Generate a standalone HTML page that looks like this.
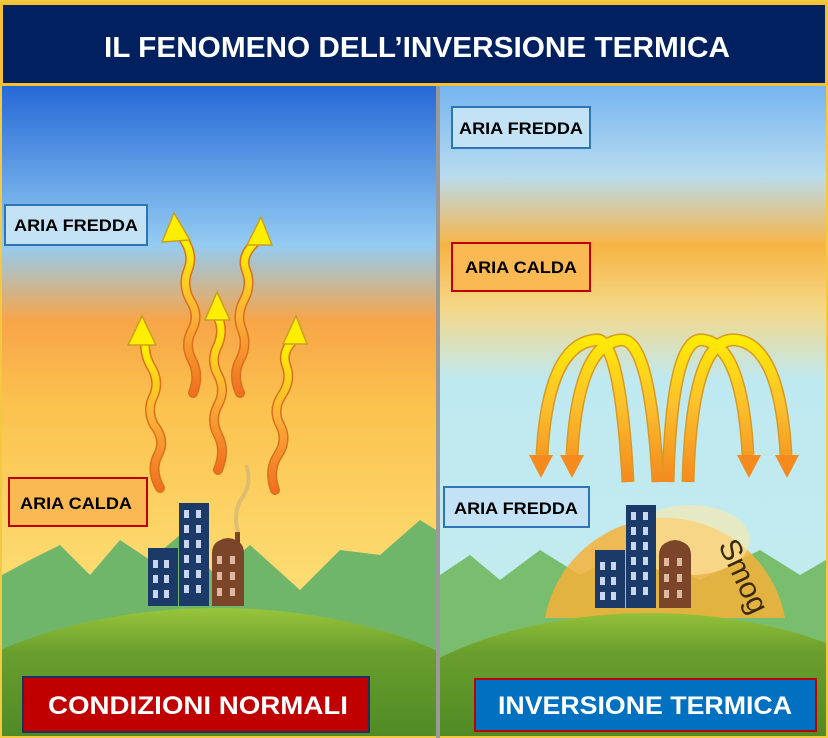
<!DOCTYPE html>
<html><head><meta charset="utf-8"><style>
html,body{margin:0;padding:0;background:#f5c842;width:828px;height:738px;overflow:hidden}
svg{display:block}
text{font-family:"Liberation Sans",sans-serif;font-weight:bold}
</style></head><body>
<svg width="828" height="738" viewBox="0 0 828 738" xmlns="http://www.w3.org/2000/svg">
<defs>
<linearGradient id="lsky" x1="0" x2="0" gradientUnits="userSpaceOnUse" y1="85" y2="620">
<stop offset="0" stop-color="#2468d6"/><stop offset="0.3" stop-color="#94ccf2"/><stop offset="0.44" stop-color="#f7a548"/><stop offset="0.6" stop-color="#fbc24e"/><stop offset="1" stop-color="#fde27a"/></linearGradient>
<linearGradient id="rsky" x1="0" x2="0" gradientUnits="userSpaceOnUse" y1="85" y2="620">
<stop offset="0" stop-color="#74b4f0"/><stop offset="0.17" stop-color="#b9dcef"/><stop offset="0.3" stop-color="#f7b444"/><stop offset="0.42" stop-color="#f4d889"/><stop offset="0.55" stop-color="#bfe9f0"/><stop offset="1" stop-color="#c2ecef"/></linearGradient>
<linearGradient id="wave" x1="0" x2="0" y1="0" y2="1"><stop offset="0" stop-color="#fff200"/><stop offset="0.5" stop-color="#fbb13a"/><stop offset="1" stop-color="#f07020"/></linearGradient>
<linearGradient id="arch" x1="0" x2="0" gradientUnits="userSpaceOnUse" y1="330" y2="480"><stop offset="0" stop-color="#fff000"/><stop offset="0.5" stop-color="#fbc02d"/><stop offset="1" stop-color="#f58a1f"/></linearGradient>
<linearGradient id="hill" x1="0" x2="0" gradientUnits="userSpaceOnUse" y1="605" y2="738"><stop offset="0" stop-color="#9cc83c"/><stop offset="0.35" stop-color="#6a9f2e"/><stop offset="1" stop-color="#4f8a25"/></linearGradient>
<clipPath id="cl"><rect x="2" y="86" width="434" height="650"/></clipPath>
<clipPath id="cr"><rect x="440" y="86" width="386" height="650"/></clipPath>
</defs>
<rect x="0" y="0" width="828" height="738" fill="#f5c842"/>
<g clip-path="url(#cl)">
<rect x="2" y="86" width="434" height="650" fill="url(#lsky)"/>
<path d="M2 575 L30 560 L60 545 L90 575 L120 540 L150 560 L180 535 L215 575 L250 545 L300 590 L340 550 L380 555 L420 520 L436 530 L436 738 L2 738Z" fill="#6fb56a"/>
<ellipse cx="218" cy="790" rx="340" ry="182" fill="url(#hill)"/>
</g>
<g clip-path="url(#cr)">
<rect x="440" y="86" width="386" height="650" fill="url(#rsky)"/>
<path d="M440 575 L470 555 L500 580 L540 550 L580 575 L640 545 L700 580 L760 550 L800 575 L826 560 L826 738 L440 738Z" fill="#79bd6e"/>
<path d="M545 618 A122 122 0 0 1 785 618Z" fill="#f5b23a" opacity="0.85"/>
<ellipse cx="690" cy="540" rx="60" ry="35" fill="#fde9a8" opacity="0.6"/>
<ellipse cx="650" cy="795" rx="320" ry="182" fill="url(#hill)"/>
</g>
<rect x="436" y="86" width="4" height="652" fill="#9a9a9a"/>
<!-- buildings left -->
<rect x="148" y="548" width="30" height="58" fill="#1c3a68"/>
<rect x="179" y="503" width="30" height="103" fill="#1c3a68"/>
<path d="M212 553 Q212 540 228 538 Q244 540 244 553 L244 606 L212 606Z" fill="#7a4528"/>
<rect x="235" y="532" width="5" height="12" fill="#7a4528"/>
<path d="M238 532 Q232 510 244 495 Q252 480 246 465" stroke="#c8b27a" stroke-width="4" fill="none" opacity="0.6"/>
<g fill="#c8d6f0">
<rect x="153" y="560" width="5" height="8"/><rect x="164" y="560" width="5" height="8"/>
<rect x="153" y="575" width="5" height="8"/><rect x="164" y="575" width="5" height="8"/>
<rect x="153" y="590" width="5" height="8"/><rect x="164" y="590" width="5" height="8"/>
<rect x="184" y="510" width="5" height="8"/><rect x="196" y="510" width="5" height="8"/>
<rect x="184" y="525" width="5" height="8"/><rect x="196" y="525" width="5" height="8"/>
<rect x="184" y="540" width="5" height="8"/><rect x="196" y="540" width="5" height="8"/>
<rect x="184" y="555" width="5" height="8"/><rect x="196" y="555" width="5" height="8"/>
<rect x="184" y="570" width="5" height="8"/><rect x="196" y="570" width="5" height="8"/>
<rect x="184" y="585" width="5" height="8"/><rect x="196" y="585" width="5" height="8"/>
</g>
<g fill="#e0b8a0"><rect x="217" y="556" width="5" height="8"/><rect x="230" y="556" width="5" height="8"/><rect x="217" y="572" width="5" height="8"/><rect x="230" y="572" width="5" height="8"/><rect x="217" y="588" width="5" height="8"/><rect x="230" y="588" width="5" height="8"/></g>
<!-- buildings right -->
<g transform="translate(447,2)">
<rect x="148" y="548" width="30" height="58" fill="#1c3a68"/>
<rect x="179" y="503" width="30" height="103" fill="#1c3a68"/>
<path d="M212 553 Q212 540 228 538 Q244 540 244 553 L244 606 L212 606Z" fill="#7a4528"/>
<g fill="#c8d6f0">
<rect x="153" y="560" width="5" height="8"/><rect x="164" y="560" width="5" height="8"/>
<rect x="153" y="575" width="5" height="8"/><rect x="164" y="575" width="5" height="8"/>
<rect x="153" y="590" width="5" height="8"/><rect x="164" y="590" width="5" height="8"/>
<rect x="184" y="510" width="5" height="8"/><rect x="196" y="510" width="5" height="8"/>
<rect x="184" y="525" width="5" height="8"/><rect x="196" y="525" width="5" height="8"/>
<rect x="184" y="540" width="5" height="8"/><rect x="196" y="540" width="5" height="8"/>
<rect x="184" y="555" width="5" height="8"/><rect x="196" y="555" width="5" height="8"/>
<rect x="184" y="570" width="5" height="8"/><rect x="196" y="570" width="5" height="8"/>
<rect x="184" y="585" width="5" height="8"/><rect x="196" y="585" width="5" height="8"/>
</g>
<g fill="#e0b8a0"><rect x="217" y="556" width="5" height="8"/><rect x="230" y="556" width="5" height="8"/><rect x="217" y="572" width="5" height="8"/><rect x="230" y="572" width="5" height="8"/><rect x="217" y="588" width="5" height="8"/><rect x="230" y="588" width="5" height="8"/></g>
</g>
<text x="718" y="545" font-size="30" fill="#3a2a10" transform="rotate(65 718 545)" style="font-weight:normal">Smog</text>
<!-- wavy arrows left -->
<g fill="none" stroke-linecap="round">
<g stroke="#d9701c" stroke-width="10">
<path d="M160 488 Q150 470 158 455 Q166 440 154 425 Q146 410 154 395 Q160 380 150 365 Q145 355 145 345"/>
<path d="M193 393 Q200 375 192 360 Q184 345 192 330 Q200 315 190 300 Q182 285 188 270 Q194 255 184 240"/>
<path d="M218 470 Q226 450 218 435 Q210 420 218 405 Q226 390 218 375 Q210 360 218 345 Q224 330 218 318"/>
<path d="M240 393 Q232 375 240 360 Q248 345 242 330 Q236 315 244 300 Q252 285 246 270 Q240 255 258 240"/>
<path d="M275 490 Q268 470 278 455 Q288 440 280 425 Q272 410 282 395 Q292 380 286 365 Q282 352 292 342"/>
</g>
<g stroke="url(#wave)" stroke-width="7">
<path d="M160 488 Q150 470 158 455 Q166 440 154 425 Q146 410 154 395 Q160 380 150 365 Q145 355 145 345"/>
<path d="M193 393 Q200 375 192 360 Q184 345 192 330 Q200 315 190 300 Q182 285 188 270 Q194 255 184 240"/>
<path d="M218 470 Q226 450 218 435 Q210 420 218 405 Q226 390 218 375 Q210 360 218 345 Q224 330 218 318"/>
<path d="M240 393 Q232 375 240 360 Q248 345 242 330 Q236 315 244 300 Q252 285 246 270 Q240 255 258 240"/>
<path d="M275 490 Q268 470 278 455 Q288 440 280 425 Q272 410 282 395 Q292 380 286 365 Q282 352 292 342"/>
</g>
</g>
<g fill="#ffee00" stroke="#c8a020" stroke-width="1.5">
<polygon points="142,316 128,345 156,345"/>
<polygon points="174,213 162,242 190,240"/>
<polygon points="217,292 205,320 230,320"/>
<polygon points="261,217 247,245 272,245"/>
<polygon points="296,316 283,344 307,344"/>
</g>
<!-- arches right -->
<g fill="none" stroke="#d89a20" stroke-width="13">
<path d="M628 482 Q620 335 595 340 Q548 345 542 455"/>
<path d="M658 482 Q650 335 620 340 Q578 345 572 455"/>
<path d="M668 482 Q672 335 703 340 Q742 345 748 455"/>
<path d="M688 482 Q692 335 736 340 Q780 345 786 455"/>
</g>
<g fill="none" stroke="url(#arch)" stroke-width="10">
<path d="M628 482 Q620 335 595 340 Q548 345 542 455"/>
<path d="M658 482 Q650 335 620 340 Q578 345 572 455"/>
<path d="M668 482 Q672 335 703 340 Q742 345 748 455"/>
<path d="M688 482 Q692 335 736 340 Q780 345 786 455"/>
</g>
<g fill="#f58a1f">
<polygon points="529,455 553,455 541,478"/>
<polygon points="560,455 584,455 572,478"/>
<polygon points="737,455 761,455 749,478"/>
<polygon points="775,455 799,455 787,478"/>
</g>
<!-- header -->
<rect x="1.5" y="3.5" width="825" height="81" fill="#002060" stroke="#f5c130" stroke-width="3"/>
<text x="417" y="57" font-size="29" fill="#fff" text-anchor="middle" textLength="626" lengthAdjust="spacingAndGlyphs">IL FENOMENO DELL’INVERSIONE TERMICA</text>
<!-- labels -->
<g font-size="17">
<rect x="5" y="205" width="142" height="40" fill="#c4e2f5" stroke="#2e75b6" stroke-width="2"/>
<text x="76" y="231" text-anchor="middle" textLength="124" lengthAdjust="spacingAndGlyphs">ARIA FREDDA</text>
<rect x="9" y="478" width="138" height="48" fill="#fbb954" stroke="#c00000" stroke-width="2"/>
<text x="76" y="509" text-anchor="middle" textLength="112" lengthAdjust="spacingAndGlyphs">ARIA CALDA</text>
<rect x="452" y="107" width="138" height="41" fill="#c4e2f5" stroke="#2e75b6" stroke-width="2"/>
<text x="521" y="134" text-anchor="middle" textLength="124" lengthAdjust="spacingAndGlyphs">ARIA FREDDA</text>
<rect x="452" y="243" width="138" height="48" fill="#fbb954" stroke="#c00000" stroke-width="2"/>
<text x="521" y="273" text-anchor="middle" textLength="112" lengthAdjust="spacingAndGlyphs">ARIA CALDA</text>
<rect x="444" y="487" width="145" height="40" fill="#c4e2f5" stroke="#2e75b6" stroke-width="2"/>
<text x="516" y="514" text-anchor="middle" textLength="124" lengthAdjust="spacingAndGlyphs">ARIA FREDDA</text>
</g>
<rect x="23" y="677" width="346" height="55" fill="#c00000" stroke="#1f2f5f" stroke-width="2"/>
<text x="198" y="714" font-size="25" fill="#fff" text-anchor="middle" textLength="300" lengthAdjust="spacingAndGlyphs">CONDIZIONI NORMALI</text>
<rect x="475" y="679" width="341" height="52" fill="#0070c0" stroke="#c00000" stroke-width="2"/>
<text x="645" y="714" font-size="25" fill="#fff" text-anchor="middle" textLength="294" lengthAdjust="spacingAndGlyphs">INVERSIONE TERMICA</text>
</svg>
</body></html>
